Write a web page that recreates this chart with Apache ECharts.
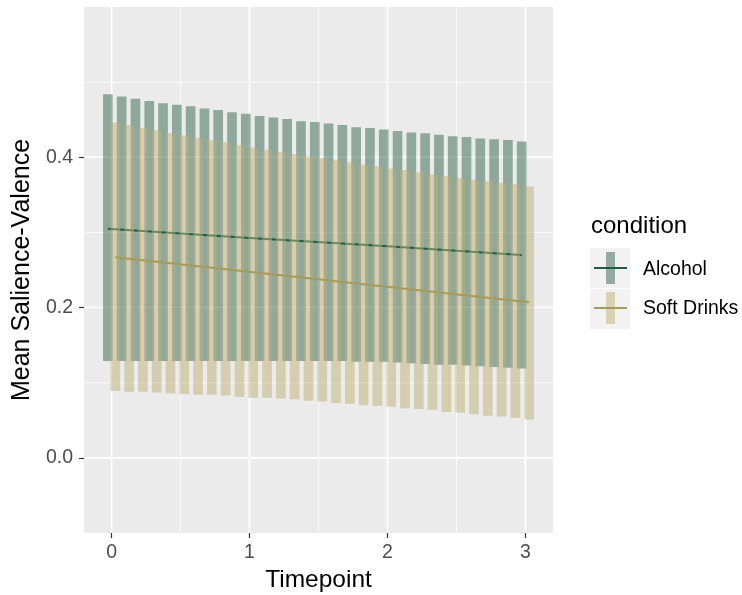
<!DOCTYPE html>
<html>
<head>
<meta charset="utf-8">
<script src="https://cdn.jsdelivr.net/npm/echarts@6/dist/echarts.min.js"></script>
<style>
  html, body { margin: 0; padding: 0; background: #fff; }
  #chart { width: 742px; height: 595px; }
</style>
</head>
<body>
<div id="chart"></div>
<script>
// timepoints where each interval bar sits
const timepoints = [0, 0.1, 0.2, 0.3, 0.4, 0.5, 0.6, 0.7, 0.8, 0.9, 1.0, 1.1, 1.2, 1.3, 1.4, 1.5,
  1.6, 1.7, 1.8, 1.9, 2.0, 2.1, 2.2, 2.3, 2.4, 2.5, 2.6, 2.7, 2.8, 2.9, 3.0];

const alcoholLower = [0.129, 0.129, 0.129, 0.129, 0.129, 0.129, 0.129, 0.129, 0.129, 0.129, 0.129,
  0.129, 0.129, 0.129, 0.129, 0.129, 0.129, 0.129, 0.128, 0.128, 0.128, 0.127, 0.126, 0.125,
  0.124, 0.124, 0.123, 0.122, 0.121, 0.120, 0.119];
const alcoholUpper = [0.484, 0.481, 0.478, 0.475, 0.472, 0.470, 0.468, 0.465, 0.463, 0.460, 0.458,
  0.455, 0.453, 0.451, 0.448, 0.447, 0.445, 0.443, 0.440, 0.439, 0.437, 0.435, 0.433, 0.432,
  0.430, 0.428, 0.427, 0.425, 0.424, 0.423, 0.421];
const softLower = [0.089, 0.088, 0.088, 0.087, 0.086, 0.085, 0.084, 0.084, 0.083, 0.081, 0.080,
  0.080, 0.079, 0.078, 0.076, 0.075, 0.073, 0.072, 0.070, 0.069, 0.068, 0.066, 0.065, 0.064,
  0.061, 0.060, 0.058, 0.056, 0.055, 0.053, 0.051];
const softUpper = [0.446, 0.443, 0.439, 0.436, 0.432, 0.429, 0.426, 0.423, 0.420, 0.416, 0.413,
  0.410, 0.407, 0.404, 0.401, 0.399, 0.396, 0.393, 0.390, 0.388, 0.385, 0.383, 0.380, 0.377,
  0.375, 0.372, 0.370, 0.368, 0.366, 0.364, 0.361];

// fitted mean lines
const lineTimes = [0, 1, 2, 3];
const alcoholMean = [0.305, 0.293, 0.282, 0.270];
const softMean = [0.267, 0.247, 0.227, 0.207];

const xTicks = [0, 1, 2, 3];
const xMinor = [0.5, 1.5, 2.5];
const yTicks = [0, 0.2, 0.4];
const yMinor = [0.1, 0.3, 0.5];

const DODGE = 0.027;
const BAR_W = 0.07;

const cols = {
  alcBar: 'rgba(51,101,80,0.5)',
  alcLine: '#1d5e42',
  softBar: 'rgba(190,175,115,0.5)',
  softLine: '#a89b5a'
};

function bars(lo, hi) {
  return timepoints.map((t, i) => [t, lo[i], hi[i]]);
}

function barSeries(data, off, fill, z) {
  return {
    type: 'custom',
    z: z,
    data: data,
    encode: { x: 0, y: [1, 2] },
    renderItem: function (params, api) {
      const t = api.value(0) + off;
      const p1 = api.coord([t - BAR_W / 2, api.value(2)]);
      const p2 = api.coord([t + BAR_W / 2, api.value(1)]);
      return {
        type: 'rect',
        shape: { x: p1[0], y: p1[1], width: p2[0] - p1[0], height: p2[1] - p1[1] },
        style: { fill: fill }
      };
    }
  };
}

// background grid lines, ggplot style
const gridData = [];
xTicks.forEach(v => gridData.push(['x', v, 1.6]));
xMinor.forEach(v => gridData.push(['x', v, 0.8]));
yTicks.forEach(v => gridData.push(['y', v, 1.6]));
yMinor.forEach(v => gridData.push(['y', v, 0.8]));

const chart = echarts.init(document.getElementById('chart'));
const font = 'Liberation Sans, Arial, sans-serif';

const option = {
  animation: false,
  grid: {
    left: 84, right: 189, top: 7, bottom: 62,
    outerBoundsMode: 'none', containLabel: false,
    show: true, backgroundColor: '#EBEBEB', borderWidth: 0
  },
  xAxis: {
    type: 'value', min: -0.2, max: 3.2,
    name: 'Timepoint', nameLocation: 'middle', nameGap: 35,
    nameTextStyle: { fontFamily: font, fontSize: 24.5, color: '#000' },
    axisLine: { show: false, onZero: false },
    axisTick: { show: true, customValues: xTicks, length: 5, lineStyle: { color: '#333', width: 1.2 } },
    axisLabel: { customValues: xTicks, fontFamily: font, fontSize: 19.5, color: '#4D4D4D', margin: 10 },
    splitLine: { show: false }
  },
  yAxis: {
    type: 'value', min: -0.1, max: 0.6,
    name: 'Mean Salience-Valence', nameLocation: 'middle', nameGap: 47,
    nameTextStyle: { fontFamily: font, fontSize: 25, color: '#000' },
    axisLine: { show: false, onZero: false },
    axisTick: { show: true, customValues: yTicks, length: 5, lineStyle: { color: '#333', width: 1.2 } },
    axisLabel: {
      customValues: yTicks, fontFamily: font, fontSize: 19.5, color: '#4D4D4D', margin: 11,
      formatter: v => v.toFixed(1)
    },
    splitLine: { show: false }
  },
  series: [
    {
      type: 'custom', z: 1, silent: true,
      data: gridData.map((d, i) => [i, 0]),
      renderItem: function (params, api) {
        const d = gridData[params.dataIndex];
        const cs = params.coordSys;
        let shape;
        if (d[0] === 'x') {
          const px = api.coord([d[1], 0])[0];
          shape = { x1: px, y1: cs.y, x2: px, y2: cs.y + cs.height };
        } else {
          const py = api.coord([0, d[1]])[1];
          shape = { x1: cs.x, y1: py, x2: cs.x + cs.width, y2: py };
        }
        return { type: 'line', shape: shape, style: { stroke: '#fff', lineWidth: d[2] } };
      }
    },
    barSeries(bars(alcoholLower, alcoholUpper), -DODGE, cols.alcBar, 2),
    {
      type: 'line', z: 3, showSymbol: false,
      data: lineTimes.map((t, i) => [t - DODGE, alcoholMean[i]]),
      lineStyle: { color: cols.alcLine, width: 2 }
    },
    barSeries(bars(softLower, softUpper), DODGE, cols.softBar, 4),
    {
      type: 'line', z: 5, showSymbol: false,
      data: lineTimes.map((t, i) => [t + DODGE, softMean[i]]),
      lineStyle: { color: cols.softLine, width: 2 }
    }
  ],
  graphic: [
    { type: 'text', x: 591, y: 226, style: { text: 'condition', font: '24px ' + font, fill: '#000', verticalAlign: 'middle' } },
    { type: 'rect', shape: { x: 590, y: 248, width: 40, height: 40 }, style: { fill: '#F2F2F2' } },
    { type: 'rect', shape: { x: 606, y: 252, width: 9, height: 32 }, style: { fill: cols.alcBar } },
    { type: 'line', shape: { x1: 594, y1: 268, x2: 627, y2: 268 }, style: { stroke: cols.alcLine, lineWidth: 2 } },
    { type: 'text', x: 643, y: 269.5, style: { text: 'Alcohol', font: '19.5px ' + font, fill: '#000', verticalAlign: 'middle' } },
    { type: 'rect', shape: { x: 590, y: 289, width: 40, height: 40 }, style: { fill: '#F2F2F2' } },
    { type: 'rect', shape: { x: 606, y: 292, width: 9, height: 32 }, style: { fill: cols.softBar } },
    { type: 'line', shape: { x1: 594, y1: 308, x2: 627, y2: 308 }, style: { stroke: cols.softLine, lineWidth: 2 } },
    { type: 'text', x: 643, y: 309, style: { text: 'Soft Drinks', font: '19.5px ' + font, fill: '#000', verticalAlign: 'middle' } }
  ]
};

chart.setOption(option);
</script>
</body>
</html>
